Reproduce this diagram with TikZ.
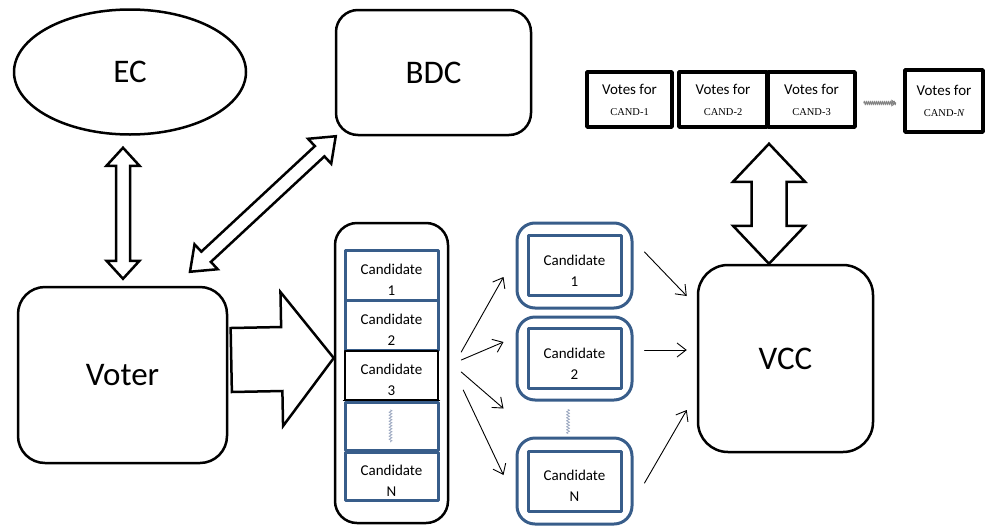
\documentclass[tikz,border=0pt]{standalone}
\usepackage{fontspec}
\setmainfont{Carlito}
\newfontfamily\timesfont{Liberation Serif}
\usetikzlibrary{calc,arrows.meta,shapes.geometric,decorations.pathmorphing}

\begin{document}
\begin{tikzpicture}[
    x=1pt, y=-1pt,
    line join=round,
    line cap=round,
    every node/.style={align=center, inner sep=0pt},
    bigtext/.style={font=\fontsize{33}{36}\selectfont},
    candtext/.style={font=\fontsize{15}{21}\selectfont},
    rbox/.style={draw=black, fill=white, line width=2.5pt, rounded corners=#1},
    rbox/.default=22pt,
    bluebox/.style={draw=candblue, fill=white, line width=3pt, candtext},
    blueround/.style={draw=candblue, fill=white, line width=3pt, rounded corners=18pt},
    votebox/.style={draw=black, fill=white, line width=3.5pt, candtext},
    blockarr/.style={draw=black, fill=white, line width=2.5pt, line join=miter},
    thinarr/.style={line width=0.9pt, -{Straight Barb[length=9pt, width=14pt]}},
    squig/.style={draw=squigcol, line width=0.8pt, decorate,
        decoration={zigzag, segment length=3pt, amplitude=1.6pt}}
]

% Colors
\definecolor{candblue}{RGB}{56,93,138}
\definecolor{squigcol}{RGB}{160,172,195}

\useasboundingbox (0,0) rectangle (987,525);

% candidate label, set a little low in its box
\newcommand{\candlabel}[1]{\rule{0pt}{20pt}Candidate\\#1}
\newcommand{\votelabel}[1]{Votes for\\{\timesfont\fontsize{10.5}{12}\selectfont CAND-#1}}

% ----------------------------------------------------
% Block arrows: from, to, shaft half width, head half width, head length
% ----------------------------------------------------
\newcommand{\dblarrow}[5]{%
\draw[blockarr] (#1)
 -- ($(#1)!#5!(#2)!#4!90:(#2)$)
 -- ($(#1)!#5!(#2)!#3!90:(#2)$)
 -- ($(#2)!#5!(#1)!#3!-90:(#1)$)
 -- ($(#2)!#5!(#1)!#4!-90:(#1)$)
 -- (#2)
 -- ($(#2)!#5!(#1)!#4!90:(#1)$)
 -- ($(#2)!#5!(#1)!#3!90:(#1)$)
 -- ($(#1)!#5!(#2)!#3!-90:(#2)$)
 -- ($(#1)!#5!(#2)!#4!-90:(#2)$)
 -- cycle;
}
\newcommand{\sglarrow}[5]{%
\draw[blockarr] ($(#1)!#3!90:(#2)$)
 -- ($(#2)!#5!(#1)!#3!-90:(#1)$)
 -- ($(#2)!#5!(#1)!#4!-90:(#1)$)
 -- (#2)
 -- ($(#2)!#5!(#1)!#4!90:(#1)$)
 -- ($(#2)!#5!(#1)!#3!90:(#1)$)
 -- ($(#1)!#3!-90:(#2)$)
 -- cycle;
}

% ----------------------------------------------------
% EC, BDC, Voter, VCC
% ----------------------------------------------------
\node[ellipse, draw=black, line width=2.5pt, minimum width=232pt, minimum height=125pt, bigtext] (ec) at (130,72) {EC};
\node[rbox, minimum width=195pt, minimum height=125pt, bigtext] (bdc) at (433.5,72.5) {BDC};
\node[rbox=27pt, minimum width=209pt, minimum height=176pt, bigtext] (voter) at (122.5,375) {Voter};
\node[rbox=30pt, minimum width=175pt, minimum height=187pt, bigtext] (vcc) at (785.5,358.5) {VCC};

% ----------------------------------------------------
% Candidate list
% ----------------------------------------------------
\node[rbox, minimum width=113pt, minimum height=300pt] (list) at (391.5,373) {};

\node[bluebox, minimum width=93pt, minimum height=50pt] (c1) at (391.5,275) {\candlabel{1}};
\node[bluebox, minimum width=93pt, minimum height=50pt] (c2) at (391.5,325) {\candlabel{2}};
\node[bluebox, draw=black, line width=1.2pt, minimum width=93pt, minimum height=49pt] (c3) at (391.5,375.5) {\candlabel{3}};
\node[bluebox, minimum width=93pt, minimum height=48pt] (ce) at (391.5,426) {};
\draw[line width=1.2pt] (ce.north west) -- (ce.north east);
\node[bluebox, minimum width=93pt, minimum height=48pt] (cN) at (391.5,476) {\candlabel{N}};

\draw[squig] ($(ce.center)+(-1,-16)$) -- ($(ce.center)+(-1,16)$);

% ----------------------------------------------------
% Candidate counters
% ----------------------------------------------------
\node[blueround, minimum width=115pt, minimum height=85pt] (cand1) at (574.5,265.5) {};
\node[bluebox, minimum width=93pt, minimum height=60pt] (cand1in) at (cand1) {\candlabel{1}};
\node[blueround, minimum width=115pt, minimum height=83pt] (cand2) at (574.5,358.5) {};
\node[bluebox, minimum width=93pt, minimum height=60pt] (cand2in) at (cand2) {\candlabel{2}};
\node[blueround, minimum width=115pt, minimum height=86pt] (candN) at (574.5,481) {};
\node[bluebox, minimum width=93pt, minimum height=60pt] (candNin) at (candN) {\candlabel{N}};

\draw[squig] ($(cand2.south)+(-6.5,8)$) -- ($(cand2.south)+(-6.5,32)$);

% ----------------------------------------------------
% Vote stores
% ----------------------------------------------------
\node[votebox, minimum width=85pt, minimum height=55pt] (v1) at (629.5,99.5) {\votelabel{1}};
\node[votebox, minimum width=88pt, minimum height=55pt] (v2) at (723,99.5) {\votelabel{2}};
\node[votebox, minimum width=87pt, minimum height=55pt] (v3) at (811.5,99.5) {\votelabel{3}};
\node[votebox, minimum width=78pt, minimum height=62pt] (vN) at (944,101) {\votelabel{\itshape N}};

\draw[squig, draw=gray, decoration={segment length=2pt, amplitude=2pt}, -{Triangle[open, length=5pt, width=7pt]}] ($(v3.east)+(7,3.5)$) -- ($(vN.west)+(-7,2)$);

% ----------------------------------------------------
% Block arrows
% ----------------------------------------------------
\coordinate (ecv1) at ($(ec.south)+(-7,12)$);
\coordinate (ecv2) at ($(voter.north)+(0.5,-7)$);
\coordinate (bdcv1) at ($(voter.north)+(67.5,-14)$);
\coordinate (bdcv2) at ($(bdc.south west)+(1,0)$);
\coordinate (vcc1) at ($(vcc.north)+(-16.5,-120)$);
\coordinate (vcc2) at ($(vcc.north)+(-16.5,0)$);
\coordinate (vl1) at ($(voter.east)+(3,-15)$);
\coordinate (vl2) at ($(list.west)+(0,-15)$);

\dblarrow{ecv1}{ecv2}{7pt}{16.5pt}{18pt}
\dblarrow{bdcv1}{bdcv2}{7pt}{17pt}{22pt}
\dblarrow{vcc1}{vcc2}{17.5pt}{36pt}{38pt}
\sglarrow{vl1}{vl2}{32pt}{67pt}{52pt}

% ----------------------------------------------------
% Thin arrows
% ----------------------------------------------------
\draw[thinarr] ($(list.east)+(12,-21)$) -- ($(cand1.west)+(-12,11.5)$);
\draw[thinarr] ($(list.east)+(12,-13)$) -- ($(cand2.west)+(-12,-16.5)$);
\draw[thinarr] ($(list.east)+(12,-1)$) -- ($(cand2.south west)+(-12,7)$);
\draw[thinarr] ($(list.east)+(14,17)$) -- ($(candN.west)+(-12,-6)$);

\draw[thinarr] ($(cand1.east)+(11,-13.5)$) -- ($(vcc.west)+(-10,-62.5)$);
\draw[thinarr] ($(cand2.east)+(11,-8.5)$) -- ($(vcc.west)+(-10,-8.5)$);
\draw[thinarr] ($(candN.east)+(11,2)$) -- ($(vcc.west)+(-10,51.5)$);

\end{tikzpicture}
\end{document}
